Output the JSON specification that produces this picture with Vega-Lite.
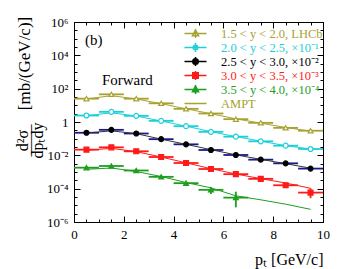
{
  "$schema": "https://vega.github.io/schema/vega-lite/v6.json",
  "width": 249,
  "height": 200,
  "autosize": "none",
  "padding": {"left": 74, "top": 22, "right": 16, "bottom": 47},
  "background": "white",
  "config": {
    "view": {"stroke": "black", "strokeWidth": 1},
    "font": "Liberation Serif",
    "axis": {
      "grid": false, "domainColor": "black", "tickColor": "black", "labelColor": "black", "titleColor": "black",
      "labelFont": "Liberation Serif", "titleFont": "Liberation Serif", "labelFontSize": 13, "titleFontSize": 16,
      "titleFontWeight": "normal", "labelOverlap": false, "labelFlush": false, "tickWidth": 1, "domainWidth": 1
    }
  },
  "datasets": {
    "pts": [
      {"s":"1.5-2.0","x":0.5,"xlo":0,"xhi":1,"v":25.1},
      {"s":"1.5-2.0","x":1.5,"xlo":1,"xhi":2,"v":45.7},
      {"s":"1.5-2.0","x":2.5,"xlo":2,"xhi":3,"v":25.1},
      {"s":"1.5-2.0","x":3.5,"xlo":3,"xhi":4,"v":13.2},
      {"s":"1.5-2.0","x":4.5,"xlo":4,"xhi":5,"v":6.17},
      {"s":"1.5-2.0","x":5.5,"xlo":5,"xhi":6,"v":3.24},
      {"s":"1.5-2.0","x":6.5,"xlo":6,"xhi":7,"v":1.48},
      {"s":"1.5-2.0","x":7.5,"xlo":7,"xhi":8,"v":0.89},
      {"s":"1.5-2.0","x":8.5,"xlo":8,"xhi":9,"v":0.447},
      {"s":"1.5-2.0","x":9.5,"xlo":9,"xhi":10,"v":0.3},
      {"s":"2.0-2.5","x":0.5,"xlo":0,"xhi":1,"v":2.45},
      {"s":"2.0-2.5","x":1.5,"xlo":1,"xhi":2,"v":4.07},
      {"s":"2.0-2.5","x":2.5,"xlo":2,"xhi":3,"v":2.34},
      {"s":"2.0-2.5","x":3.5,"xlo":3,"xhi":4,"v":1.17},
      {"s":"2.0-2.5","x":4.5,"xlo":4,"xhi":5,"v":0.562},
      {"s":"2.0-2.5","x":5.5,"xlo":5,"xhi":6,"v":0.257},
      {"s":"2.0-2.5","x":6.5,"xlo":6,"xhi":7,"v":0.132},
      {"s":"2.0-2.5","x":7.5,"xlo":7,"xhi":8,"v":0.0692},
      {"s":"2.0-2.5","x":8.5,"xlo":8,"xhi":9,"v":0.038},
      {"s":"2.0-2.5","x":9.5,"xlo":9,"xhi":10,"v":0.024},
      {"s":"2.5-3.0","x":0.5,"xlo":0,"xhi":1,"v":0.226},
      {"s":"2.5-3.0","x":1.5,"xlo":1,"xhi":2,"v":0.339},
      {"s":"2.5-3.0","x":2.5,"xlo":2,"xhi":3,"v":0.204},
      {"s":"2.5-3.0","x":3.5,"xlo":3,"xhi":4,"v":0.0933},
      {"s":"2.5-3.0","x":4.5,"xlo":4,"xhi":5,"v":0.0457},
      {"s":"2.5-3.0","x":5.5,"xlo":5,"xhi":6,"v":0.0209},
      {"s":"2.5-3.0","x":6.5,"xlo":6,"xhi":7,"v":0.0105},
      {"s":"2.5-3.0","x":7.5,"xlo":7,"xhi":8,"v":0.0055},
      {"s":"2.5-3.0","x":8.5,"xlo":8,"xhi":9,"v":0.00331},
      {"s":"2.5-3.0","x":9.5,"xlo":9,"xhi":10,"v":0.0016},
      {"s":"3.0-3.5","x":0.5,"xlo":0,"xhi":1,"v":0.0219},
      {"s":"3.0-3.5","x":1.5,"xlo":1,"xhi":2,"v":0.0302},
      {"s":"3.0-3.5","x":2.5,"xlo":2,"xhi":3,"v":0.0174},
      {"s":"3.0-3.5","x":3.5,"xlo":3,"xhi":4,"v":0.00794},
      {"s":"3.0-3.5","x":4.5,"xlo":4,"xhi":5,"v":0.00347},
      {"s":"3.0-3.5","x":5.5,"xlo":5,"xhi":6,"v":0.00151},
      {"s":"3.0-3.5","x":6.5,"xlo":6,"xhi":7,"v":0.000741},
      {"s":"3.0-3.5","x":7.5,"xlo":7,"xhi":8,"v":0.000389},
      {"s":"3.0-3.5","x":8.5,"xlo":8,"xhi":9,"v":0.00016},
      {"s":"3.0-3.5","x":9.5,"xlo":9,"xhi":10,"v":0.000058,"lo":0.000027,"hi":0.000105},
      {"s":"3.5-4.0","x":0.5,"xlo":0,"xhi":1,"v":0.00182},
      {"s":"3.5-4.0","x":1.5,"xlo":1,"xhi":2,"v":0.00229},
      {"s":"3.5-4.0","x":2.5,"xlo":2,"xhi":3,"v":0.00123},
      {"s":"3.5-4.0","x":3.5,"xlo":3,"xhi":4,"v":0.000513},
      {"s":"3.5-4.0","x":4.5,"xlo":4,"xhi":5,"v":0.000214},
      {"s":"3.5-4.0","x":5.5,"xlo":5,"xhi":6,"v":0.000085,"lo":0.000048,"hi":0.00012},
      {"s":"3.5-4.0","x":6.5,"xlo":6,"xhi":7,"v":0.000029,"lo":0.0000076,"hi":0.000066}
    ],
    "ampt": [
      {"s":"1.5-2.0","x":0.5,"v":24.0},{"s":"1.5-2.0","x":1.5,"v":38.0},{"s":"1.5-2.0","x":2.5,"v":24.0},{"s":"1.5-2.0","x":3.5,"v":12.6},{"s":"1.5-2.0","x":4.5,"v":6.17},
      {"s":"1.5-2.0","x":5.5,"v":3.16},{"s":"1.5-2.0","x":6.5,"v":1.55},{"s":"1.5-2.0","x":7.5,"v":0.851},{"s":"1.5-2.0","x":8.5,"v":0.468},{"s":"1.5-2.0","x":9.5,"v":0.282},
      {"s":"2.0-2.5","x":0.5,"v":2.40},{"s":"2.0-2.5","x":1.5,"v":3.55},{"s":"2.0-2.5","x":2.5,"v":2.29},{"s":"2.0-2.5","x":3.5,"v":1.15},{"s":"2.0-2.5","x":4.5,"v":0.562},
      {"s":"2.0-2.5","x":5.5,"v":0.263},{"s":"2.0-2.5","x":6.5,"v":0.132},{"s":"2.0-2.5","x":7.5,"v":0.0708},{"s":"2.0-2.5","x":8.5,"v":0.038},{"s":"2.0-2.5","x":9.5,"v":0.024},
      {"s":"2.5-3.0","x":0.5,"v":0.219},{"s":"2.5-3.0","x":1.5,"v":0.295},{"s":"2.5-3.0","x":2.5,"v":0.2},{"s":"2.5-3.0","x":3.5,"v":0.0933},{"s":"2.5-3.0","x":4.5,"v":0.0457},
      {"s":"2.5-3.0","x":5.5,"v":0.0219},{"s":"2.5-3.0","x":6.5,"v":0.0107},{"s":"2.5-3.0","x":7.5,"v":0.00575},{"s":"2.5-3.0","x":8.5,"v":0.00316},{"s":"2.5-3.0","x":9.5,"v":0.0017},
      {"s":"3.0-3.5","x":0.5,"v":0.02},{"s":"3.0-3.5","x":1.5,"v":0.0263},{"s":"3.0-3.5","x":2.5,"v":0.0166},{"s":"3.0-3.5","x":3.5,"v":0.00794},{"s":"3.0-3.5","x":4.5,"v":0.00355},
      {"s":"3.0-3.5","x":5.5,"v":0.00158},{"s":"3.0-3.5","x":6.5,"v":0.000759},{"s":"3.0-3.5","x":7.5,"v":0.000398},{"s":"3.0-3.5","x":8.5,"v":0.000219},{"s":"3.0-3.5","x":9.5,"v":0.000105},
      {"s":"3.5-4.0","x":0.5,"v":0.00145},{"s":"3.5-4.0","x":1.5,"v":0.00174},{"s":"3.5-4.0","x":2.5,"v":0.00107},{"s":"3.5-4.0","x":3.5,"v":0.000537},{"s":"3.5-4.0","x":4.5,"v":0.000234},
      {"s":"3.5-4.0","x":5.5,"v":0.000112},{"s":"3.5-4.0","x":6.5,"v":0.0000372},{"s":"3.5-4.0","x":7.5,"v":0.0000214},{"s":"3.5-4.0","x":8.5,"v":0.0000117},{"s":"3.5-4.0","x":9.5,"v":0.00000575}
    ]
  },
  "layer": [
    {
      "data": {"name": "pts"},
      "mark": {"type": "rule", "strokeWidth": 1.8},
      "encoding": {
        "x": {"field": "xlo", "type": "quantitative", "scale": {"domain": [0, 10], "nice": false, "zero": false},
          "axis": {"orient": "bottom", "values": [0, 2, 4, 6, 8, 10], "format": "d", "tickSize": -6, "labelPadding": 12,
            "title": "pₜ [GeV/c]", "titleX": 249, "titleY": 42, "titleAlign": "right", "titleAnchor": "end", "titleBaseline": "alphabetic"}},
        "x2": {"field": "xhi"},
        "y": {"field": "v", "type": "quantitative", "scale": {"type": "log", "domain": [0.000001, 1000000], "nice": false},
          "axis": {"orient": "left", "values": [0.000001, 0.0001, 0.01, 1, 100, 10000, 1000000], "tickSize": -6, "labelPadding": 12,
            "labelExpr": "datum.value < 0.00001 ? '10⁻⁶' : datum.value < 0.001 ? '10⁻⁴' : datum.value < 0.1 ? '10⁻²' : datum.value < 10 ? '1' : datum.value < 1000 ? '10²' : datum.value < 100000 ? '10⁴' : '10⁶'",
            "title": "[mb/(GeV/c)]", "titleFontSize": 17, "titleX": -50, "titleY": 41, "titleAngle": 270, "titleAlign": "center", "titleBaseline": "middle"}},
        "stroke": {"field": "s", "type": "nominal", "scale": {"domain": ["1.5-2.0", "2.0-2.5", "2.5-3.0", "3.0-3.5", "3.5-4.0"], "range": ["#a8a230", "#1ccfd8", "#1a1a8c", "#ff1a1a", "#1e9e1e"]}, "legend": null}
      }
    },
    {
      "data": {"name": "ampt"},
      "mark": {"type": "line", "strokeWidth": 1},
      "encoding": {
        "x": {"field": "x", "type": "quantitative", "axis": {"orient": "top", "values": [0, 2, 4, 6, 8, 10], "tickSize": -6, "labels": false, "title": null}},
        "y": {"field": "v", "type": "quantitative", "axis": {"orient": "right", "values": [0.000001, 0.0001, 0.01, 1, 100, 10000, 1000000], "tickSize": -6, "labels": false, "title": null}},
        "stroke": {"field": "s", "type": "nominal", "scale": {"domain": ["1.5-2.0", "2.0-2.5", "2.5-3.0", "3.0-3.5", "3.5-4.0"], "range": ["#a8a230", "#1ccfd8", "#333333", "#ff1a1a", "#1e9e1e"]}, "legend": null},
        "order": {"field": "x"}
      }
    },
    {
      "data": {"name": "pts"},
      "transform": [{"filter": "isValid(datum.lo)"}],
      "mark": {"type": "rule", "strokeWidth": 1.8},
      "encoding": {
        "x": {"field": "x", "type": "quantitative", "axis": {"orient": "bottom", "values": [0.5, 1, 1.5, 2.5, 3, 3.5, 4.5, 5, 5.5, 6.5, 7, 7.5, 8.5, 9, 9.5], "tickSize": -3, "labels": false, "domain": false, "title": null}},
        "y": {"field": "lo", "type": "quantitative", "axis": {"orient": "left", "values": [0.0000031623, 0.00001, 0.000031623, 0.00031623, 0.001, 0.0031623, 0.031623, 0.1, 0.31623, 3.1623, 10, 31.623, 316.23, 1000, 3162.3, 31623, 100000, 316228], "tickSize": -3, "labels": false, "domain": false, "title": null}},
        "y2": {"field": "hi"},
        "stroke": {"field": "s", "type": "nominal", "scale": {"domain": ["1.5-2.0", "2.0-2.5", "2.5-3.0", "3.0-3.5", "3.5-4.0"], "range": ["#a8a230", "#1ccfd8", "#1a1a8c", "#ff1a1a", "#1e9e1e"]}, "legend": null}
      }
    },
    {
      "data": {"name": "pts"},
      "mark": {"type": "point", "size": 24, "strokeWidth": 1.2, "opacity": 1},
      "encoding": {
        "x": {"field": "x", "type": "quantitative", "axis": {"orient": "top", "values": [0.5, 1, 1.5, 2.5, 3, 3.5, 4.5, 5, 5.5, 6.5, 7, 7.5, 8.5, 9, 9.5], "tickSize": -3, "labels": false, "domain": false, "title": null}},
        "y": {"field": "v", "type": "quantitative", "axis": {"orient": "right", "values": [0.0000031623, 0.00001, 0.000031623, 0.00031623, 0.001, 0.0031623, 0.031623, 0.1, 0.31623, 3.1623, 10, 31.623, 316.23, 1000, 3162.3, 31623, 100000, 316228], "tickSize": -3, "labels": false, "domain": false, "title": null}},
        "stroke": {"field": "s", "type": "nominal", "scale": {"domain": ["1.5-2.0", "2.0-2.5", "2.5-3.0", "3.0-3.5", "3.5-4.0"], "range": ["#a8a230", "#1ccfd8", "black", "#ff1a1a", "#1e9e1e"]}, "legend": null},
        "fill": {"field": "s", "type": "nominal", "scale": {"domain": ["1.5-2.0", "2.0-2.5", "2.5-3.0", "3.0-3.5", "3.5-4.0"], "range": ["white", "white", "black", "#ff1a1a", "#1e9e1e"]}, "legend": null},
        "shape": {"field": "s", "type": "nominal", "scale": {"domain": ["1.5-2.0", "2.0-2.5", "2.5-3.0", "3.0-3.5", "3.5-4.0"], "range": ["triangle-up", "circle", "circle", "square", "triangle-up"]}, "legend": null}
      }
    },
    {
      "data": {"name": "pts"},
      "transform": [{"filter": "false"}],
      "mark": {"type": "point", "size": 121, "strokeWidth": 1.5, "opacity": 1},
      "encoding": {
        "stroke": {"field": "s", "type": "nominal",
          "scale": {"domain": ["1.5-2.0", "2.0-2.5", "2.5-3.0", "3.0-3.5", "3.5-4.0", "AMPT"], "range": ["#a8a230", "#1ccfd8", "black", "#ff1a1a", "#1e9e1e", "#a8a230"]},
          "legend": {
            "orient": "none", "legendX": 115, "legendY": 5, "title": null, "padding": 0, "rowPadding": -3,
            "symbolSize": 121, "symbolStrokeWidth": 1.5, "labelOffset": 19, "labelLimit": 300,
            "labelFont": "Liberation Serif", "labelFontSize": 12.5,
            "labelExpr": "datum.value == '1.5-2.0' ? '1.5 < y < 2.0, LHCb' : datum.value == '2.0-2.5' ? '2.0 < y < 2.5, ×10⁻¹' : datum.value == '2.5-3.0' ? '2.5 < y < 3.0, ×10⁻²' : datum.value == '3.0-3.5' ? '3.0 < y < 3.5, ×10⁻³' : datum.value == '3.5-4.0' ? '3.5 < y < 4.0, ×10⁻⁴' : 'AMPT'",
            "labelColor": {"expr": "datum.value == '2.0-2.5' ? '#1ccfd8' : datum.value == '2.5-3.0' ? 'black' : datum.value == '3.0-3.5' ? '#ff1a1a' : datum.value == '3.5-4.0' ? '#1e9e1e' : '#a8a230'"}
          }},
        "fill": {"field": "s", "type": "nominal",
          "scale": {"domain": ["1.5-2.0", "2.0-2.5", "2.5-3.0", "3.0-3.5", "3.5-4.0", "AMPT"], "range": ["white", "white", "black", "#ff1a1a", "#1e9e1e", "transparent"]}},
        "shape": {"field": "s", "type": "nominal",
          "scale": {"domain": ["1.5-2.0", "2.0-2.5", "2.5-3.0", "3.0-3.5", "3.5-4.0", "AMPT"],
            "range": [
              "M-2,0H2M0,-0.8V0.8M0,-0.6L0.55,0.42L-0.55,0.42Z",
              "M-2,0H2M0,-0.8V0.8M0.42,0A0.42,0.42 0 1 1 -0.42,0A0.42,0.42 0 1 1 0.42,0Z",
              "M-2,0H2M0,-0.8V0.8M0.5,0A0.5,0.5 0 1 1 -0.5,0A0.5,0.5 0 1 1 0.5,0Z",
              "M-2,0H2M0,-0.8V0.8M-0.5,-0.5H0.5V0.5H-0.5Z",
              "M-2,0H2M0,-0.8V0.8M0,-0.6L0.55,0.42L-0.55,0.42Z",
              "M-2,0H2"
            ]}}
      }
    },
    {
      "data": {"values": [{"t": "(b)", "x": 0.44, "v": 83000}, {"t": "Forward", "x": 1.12, "v": 330}]},
      "mark": {"type": "text", "align": "left", "baseline": "middle", "font": "Liberation Serif", "fontSize": 15},
      "encoding": {
        "x": {"field": "x", "type": "quantitative", "axis": null},
        "y": {"field": "v", "type": "quantitative", "axis": {"orient": "left", "ticks": false, "labels": false, "domain": false,
          "title": ["d²σ", "——", "dpₜdy"], "titleX": -52, "titleY": 118, "titleAngle": 270, "titleAlign": "center", "titleBaseline": "middle", "titleLineHeight": 7.5}},
        "text": {"field": "t"}
      }
    }
  ],
  "resolve": {
    "scale": {"stroke": "independent", "fill": "independent", "shape": "independent"},
    "axis": {"x": "independent", "y": "independent"}
  }
}
